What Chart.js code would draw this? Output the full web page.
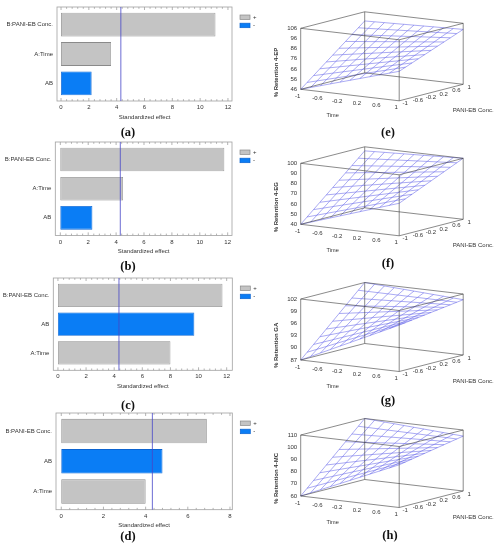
<!DOCTYPE html>
<html>
<head>
<meta charset="utf-8">
<script src="https://cdn.jsdelivr.net/npm/chart.js@4.4.1/dist/chart.umd.min.js"></script>
<style>
html,body{margin:0;padding:0;background:#fff;}
#fig{position:relative;width:494px;height:550px;overflow:hidden;background:#fff;}
#fig canvas{position:absolute;}
.cap{position:absolute;font-family:"Liberation Serif","Times New Roman",serif;font-weight:bold;font-size:12.5px;color:#111;transform:translate(-50%,-50%);white-space:nowrap;}
</style>
</head>
<body>
<div id="fig"></div>
<script>
// ================= DATA =================
// Pareto charts (a)-(d)
const effectTerms = [
  ['B:PANI-EB Conc.', 'A:Time', 'AB'],
  ['B:PANI-EB Conc.', 'A:Time', 'AB'],
  ['B:PANI-EB Conc.', 'AB', 'A:Time'],
  ['B:PANI-EB Conc.', 'AB', 'A:Time']
];
const effectValues = [
  [11.1, 3.6, 2.2],
  [11.76, 4.5, 2.3],
  [11.7, 9.7, 8.0],
  [6.9, 4.8, 4.0]
];
const effectSigns = [
  ['+', '+', '-'],
  ['+', '+', '-'],
  ['+', '-', '+'],
  ['+', '-', '+']
];
const criticalEffect = [4.3, 4.3, 4.34, 4.32];
const effectTickLabels = [
  [0, 2, 4, 6, 8, 10, 12],
  [0, 2, 4, 6, 8, 10, 12],
  [0, 2, 4, 6, 8, 10, 12],
  [0, 2, 4, 6, 8]
];
const effectAxisMin = [-0.29, -0.36, -0.33, -0.25];
const effectAxisMax = [12.29, 12.31, 12.4, 8.11];
const legendLabels = ['+', '-'];
const effectAxisTitle = 'Standardized effect';

// Response surfaces (e)-(h)
const responseTitles = ['% Retention 4-EP', '% Retention 4-EG', '% Retention GA', '% Retention 4-MC'];
const responseTicks = [
  [46, 56, 66, 76, 86, 96, 106],
  [40, 50, 60, 70, 80, 90, 100],
  [87, 90, 93, 96, 99, 102],
  [60, 70, 80, 90, 100, 110]
];
// fitted response at (Time,Conc) = (-1,-1), (1,-1), (-1,1), (1,1)
const cornerResponses = [
  [46, 75, 97, 100],
  [40, 72, 96, 100],
  [87, 98.4, 102, 100.6],
  [60, 95, 110, 105]
];
const factorTicks = [-1, -0.6, -0.2, 0.2, 0.6, 1];
const factorNames = ['Time', 'PANI-EB Conc.'];
const captions = ['(a)', '(b)', '(c)', '(d)', '(e)', '(f)', '(g)', '(h)'];

// ================= LAYOUT =================
const FONT = '"Liberation Sans", Arial, sans-serif';
const fig = document.getElementById('fig');
const paretoFrames = [
  {l: 57, t: 7, r: 232, b: 101},
  {l: 55.3, t: 142.3, r: 232, b: 235.7},
  {l: 53.3, t: 277.7, r: 232.3, b: 370},
  {l: 56, t: 413.3, r: 232.3, b: 510}
];
const captionPos = [[128, 132], [128, 266], [128, 405], [128, 536], [388, 132], [388, 263], [388, 400], [390, 535]];
const surfLeft = 266, surfW = 228, surfH = 130;
const surfTops = [0, 135, 275, 410];
const surfOriginY = [89.3, 89.3, 85, 86];
const surfOriginX = 34.7;
const tVec = [98.5, 11.5], cVec = [64, -16.5], zHeight = 61;
const meshLines = 11;

function addCanvas(left, top, w, h) {
  const cv = document.createElement('canvas');
  cv.width = w; cv.height = h;
  cv.style.left = left + 'px'; cv.style.top = top + 'px';
  cv.style.width = w + 'px'; cv.style.height = h + 'px';
  fig.appendChild(cv);
  return cv;
}

// ================= PARETO CHARTS =================
function makePareto(i) {
  const F = paretoFrames[i];
  const fh = F.b - F.t;
  const topOff = 8, inset = 3, W = 280;
  const H = Math.round(fh + 30);
  const cv = addCanvas(0, F.t - topOff, W, H);
  const chartTop = topOff + inset;
  const chartBottom = topOff + fh - inset;
  const xAxisH = H - chartBottom;
  const titleCenter = topOff + fh + 16;
  const titlePadB = Math.max(0, H - titleCenter - 3.6);
  const tickPad = inset + 6.5 - 3.6;

  const decor = {
    id: 'paretoDecor' + i,
    afterDraw(chart) {
      const {ctx, chartArea: a} = chart;
      const x = chart.scales.x;
      const top = a.top - inset, bot = a.bottom + inset;
      ctx.save();
      ctx.strokeStyle = '#a0a0a0';
      ctx.lineWidth = 0.8;
      ctx.strokeRect(a.left, top, a.right - a.left, bot - top);
      // minor / major tick marks on top and bottom
      const tl = effectTickLabels[i];
      const step = tl[1] - tl[0];
      const minor = step / 5;
      ctx.beginPath();
      for (let v = tl[0]; v <= effectAxisMax[i] + 1e-9; v += minor) {
        const px = x.getPixelForValue(v);
        if (px < a.left || px > a.right) continue;
        const isMajor = Math.abs(v / step - Math.round(v / step)) < 1e-6;
        const len = isMajor ? 3 : 1.8;
        ctx.moveTo(px, top); ctx.lineTo(px, top + len);
        ctx.moveTo(px, bot); ctx.lineTo(px, bot - len);
      }
      ctx.stroke();
      // critical effect line
      const cx = x.getPixelForValue(criticalEffect[i]);
      ctx.strokeStyle = '#4646c8';
      ctx.lineWidth = 0.8;
      ctx.beginPath(); ctx.moveTo(cx, top); ctx.lineTo(cx, bot); ctx.stroke();
      // legend
      chart.data.datasets.forEach((ds, k) => {
        const bx = a.right + 8, by = top + 8 + k * 8.2;
        ctx.fillStyle = ds.backgroundColor;
        ctx.fillRect(bx, by, 10, 4.5);
        ctx.strokeStyle = ds.borderColor;
        ctx.lineWidth = 0.7;
        ctx.strokeRect(bx, by, 10, 4.5);
        ctx.fillStyle = '#333';
        ctx.font = '6px ' + FONT;
        ctx.textAlign = 'left';
        ctx.textBaseline = 'middle';
        ctx.fillText(ds.label, bx + 13, by + 2.3);
      });
      ctx.restore();
    }
  };

  new Chart(cv, {
    type: 'bar',
    data: {
      labels: effectTerms[i],
      datasets: legendLabels.map((sg, k) => ({
        label: sg,
        data: effectValues[i].map((v, j) => effectSigns[i][j] === sg ? v : null),
        backgroundColor: k === 0 ? '#c4c4c4' : '#0a7df5',
        borderColor: k === 0 ? '#8a8a8a' : '#0b63d0',
        borderWidth: 0.8,
        borderSkipped: false,
        grouped: false,
        barPercentage: 0.81,
        categoryPercentage: 1
      }))
    },
    options: {
      indexAxis: 'y',
      responsive: false,
      animation: false,
      layout: {padding: {top: chartTop, right: W - F.r, bottom: 0, left: 0}},
      plugins: {legend: {display: false}, tooltip: {enabled: false}},
      scales: {
        x: {
          type: 'linear', position: 'bottom',
          min: effectAxisMin[i], max: effectAxisMax[i],
          afterBuildTicks: s => { s.ticks = effectTickLabels[i].map(v => ({value: v})); },
          afterFit: s => { s.height = xAxisH; },
          grid: {display: false, drawTicks: false},
          border: {display: false},
          ticks: {font: {family: FONT, size: 6}, color: '#333', padding: tickPad, maxRotation: 0, autoSkip: false},
          title: {display: true, text: effectAxisTitle, font: {family: FONT, size: 6}, color: '#333', padding: {top: 0, bottom: titlePadB}}
        },
        y: {
          type: 'category',
          afterFit: s => { s.width = F.l; },
          grid: {display: false, drawTicks: false},
          border: {display: false},
          ticks: {font: {family: FONT, size: 6}, color: '#333', padding: 4}
        }
      }
    },
    plugins: [decor]
  });
}

// ================= RESPONSE SURFACES =================
function makeSurface(i) {
  const cv = addCanvas(surfLeft, surfTops[i], surfW, surfH);
  const zt = responseTicks[i];
  const zMin = zt[0], zMax = zt[zt.length - 1];
  const [z00, z10, z01, z11] = cornerResponses[i];
  const ox = surfOriginX, oy = surfOriginY[i];
  const fitted = (t, c) => {
    const u = (t + 1) / 2, v = (c + 1) / 2;
    return z00 * (1 - u) * (1 - v) + z10 * u * (1 - v) + z01 * (1 - u) * v + z11 * u * v;
  };
  const proj = (t, c, z) => {
    const u = (t + 1) / 2, v = (c + 1) / 2, w = (z - zMin) / (zMax - zMin);
    return {x: ox + u * tVec[0] + v * cVec[0], y: oy + u * tVec[1] + v * cVec[1] - w * zHeight};
  };
  const gap = {x: null, y: null};

  // mesh
  const mesh = [];
  for (let k = 0; k < meshLines; k++) {
    const a = -1 + 2 * k / (meshLines - 1);
    for (let m = 0; m < meshLines; m++) {
      const b = -1 + 2 * m / (meshLines - 1);
      mesh.push(proj(a, b, fitted(a, b)));
    }
    mesh.push(gap);
    for (let m = 0; m < meshLines; m++) {
      const b = -1 + 2 * m / (meshLines - 1);
      mesh.push(proj(b, a, fitted(b, a)));
    }
    mesh.push(gap);
  }
  // box edges
  const box = [];
  const S = [-1, 1], Z = [zMin, zMax];
  S.forEach(c => Z.forEach(z => { box.push(proj(-1, c, z), proj(1, c, z), gap); }));
  S.forEach(t => Z.forEach(z => { box.push(proj(t, -1, z), proj(t, 1, z), gap); }));
  S.forEach(t => S.forEach(c => { box.push(proj(t, c, zMin), proj(t, c, zMax), gap); }));

  const labels = {
    id: 'surfLabels' + i,
    afterDraw(chart) {
      const ctx = chart.ctx;
      ctx.save();
      ctx.fillStyle = '#333';
      ctx.font = '6px ' + FONT;
      ctx.textBaseline = 'middle';
      // z ticks
      ctx.textAlign = 'right';
      zt.forEach(v => { const p = proj(-1, -1, v); ctx.fillText(String(v), p.x - 3.5, p.y); });
      // time ticks
      ctx.textAlign = 'center';
      factorTicks.forEach(t => { const p = proj(t, -1, zMin); ctx.fillText(String(t), p.x - 3, p.y + 7); });
      // conc ticks
      factorTicks.forEach(c => { const p = proj(1, c, zMin); ctx.fillText(String(c), p.x + 6, p.y + 3); });
      // axis names
      ctx.font = '5.6px ' + FONT;
      const pt = proj(0, -1, zMin);
      ctx.fillText(factorNames[0], pt.x - 17.25, pt.y + 20.75);
      ctx.font = '6px ' + FONT;
      const pc = proj(1, 0, zMin);
      ctx.fillText(factorNames[1], pc.x + 42, pc.y + 17.75);
      // response title (rotated)
      ctx.font = 'bold 6px ' + FONT;
      ctx.translate(10.7, oy + 8);
      ctx.rotate(-Math.PI / 2);
      ctx.textAlign = 'left';
      ctx.fillText(responseTitles[i], 0, 0);
      ctx.restore();
    }
  };

  new Chart(cv, {
    type: 'scatter',
    data: {
      datasets: [
        {data: box, showLine: true, spanGaps: false, borderColor: '#3c3c3c', borderWidth: 0.6, pointRadius: 0, clip: false, tension: 0},
        {data: mesh, showLine: true, spanGaps: false, borderColor: 'rgba(88,88,232,0.85)', borderWidth: 0.6, pointRadius: 0, clip: false, tension: 0}
      ]
    },
    options: {
      responsive: false,
      animation: false,
      layout: {padding: 0},
      plugins: {legend: {display: false}, tooltip: {enabled: false}},
      scales: {
        x: {type: 'linear', min: 0, max: surfW, display: false},
        y: {type: 'linear', min: 0, max: surfH, reverse: true, display: false}
      }
    },
    plugins: [labels]
  });
}

for (let i = 0; i < 4; i++) makePareto(i);
for (let i = 0; i < 4; i++) makeSurface(i);

captions.forEach((c, k) => {
  const d = document.createElement('div');
  d.className = 'cap';
  d.textContent = c;
  d.style.left = captionPos[k][0] + 'px';
  d.style.top = captionPos[k][1] + 'px';
  fig.appendChild(d);
});
</script>
</body>
</html>
